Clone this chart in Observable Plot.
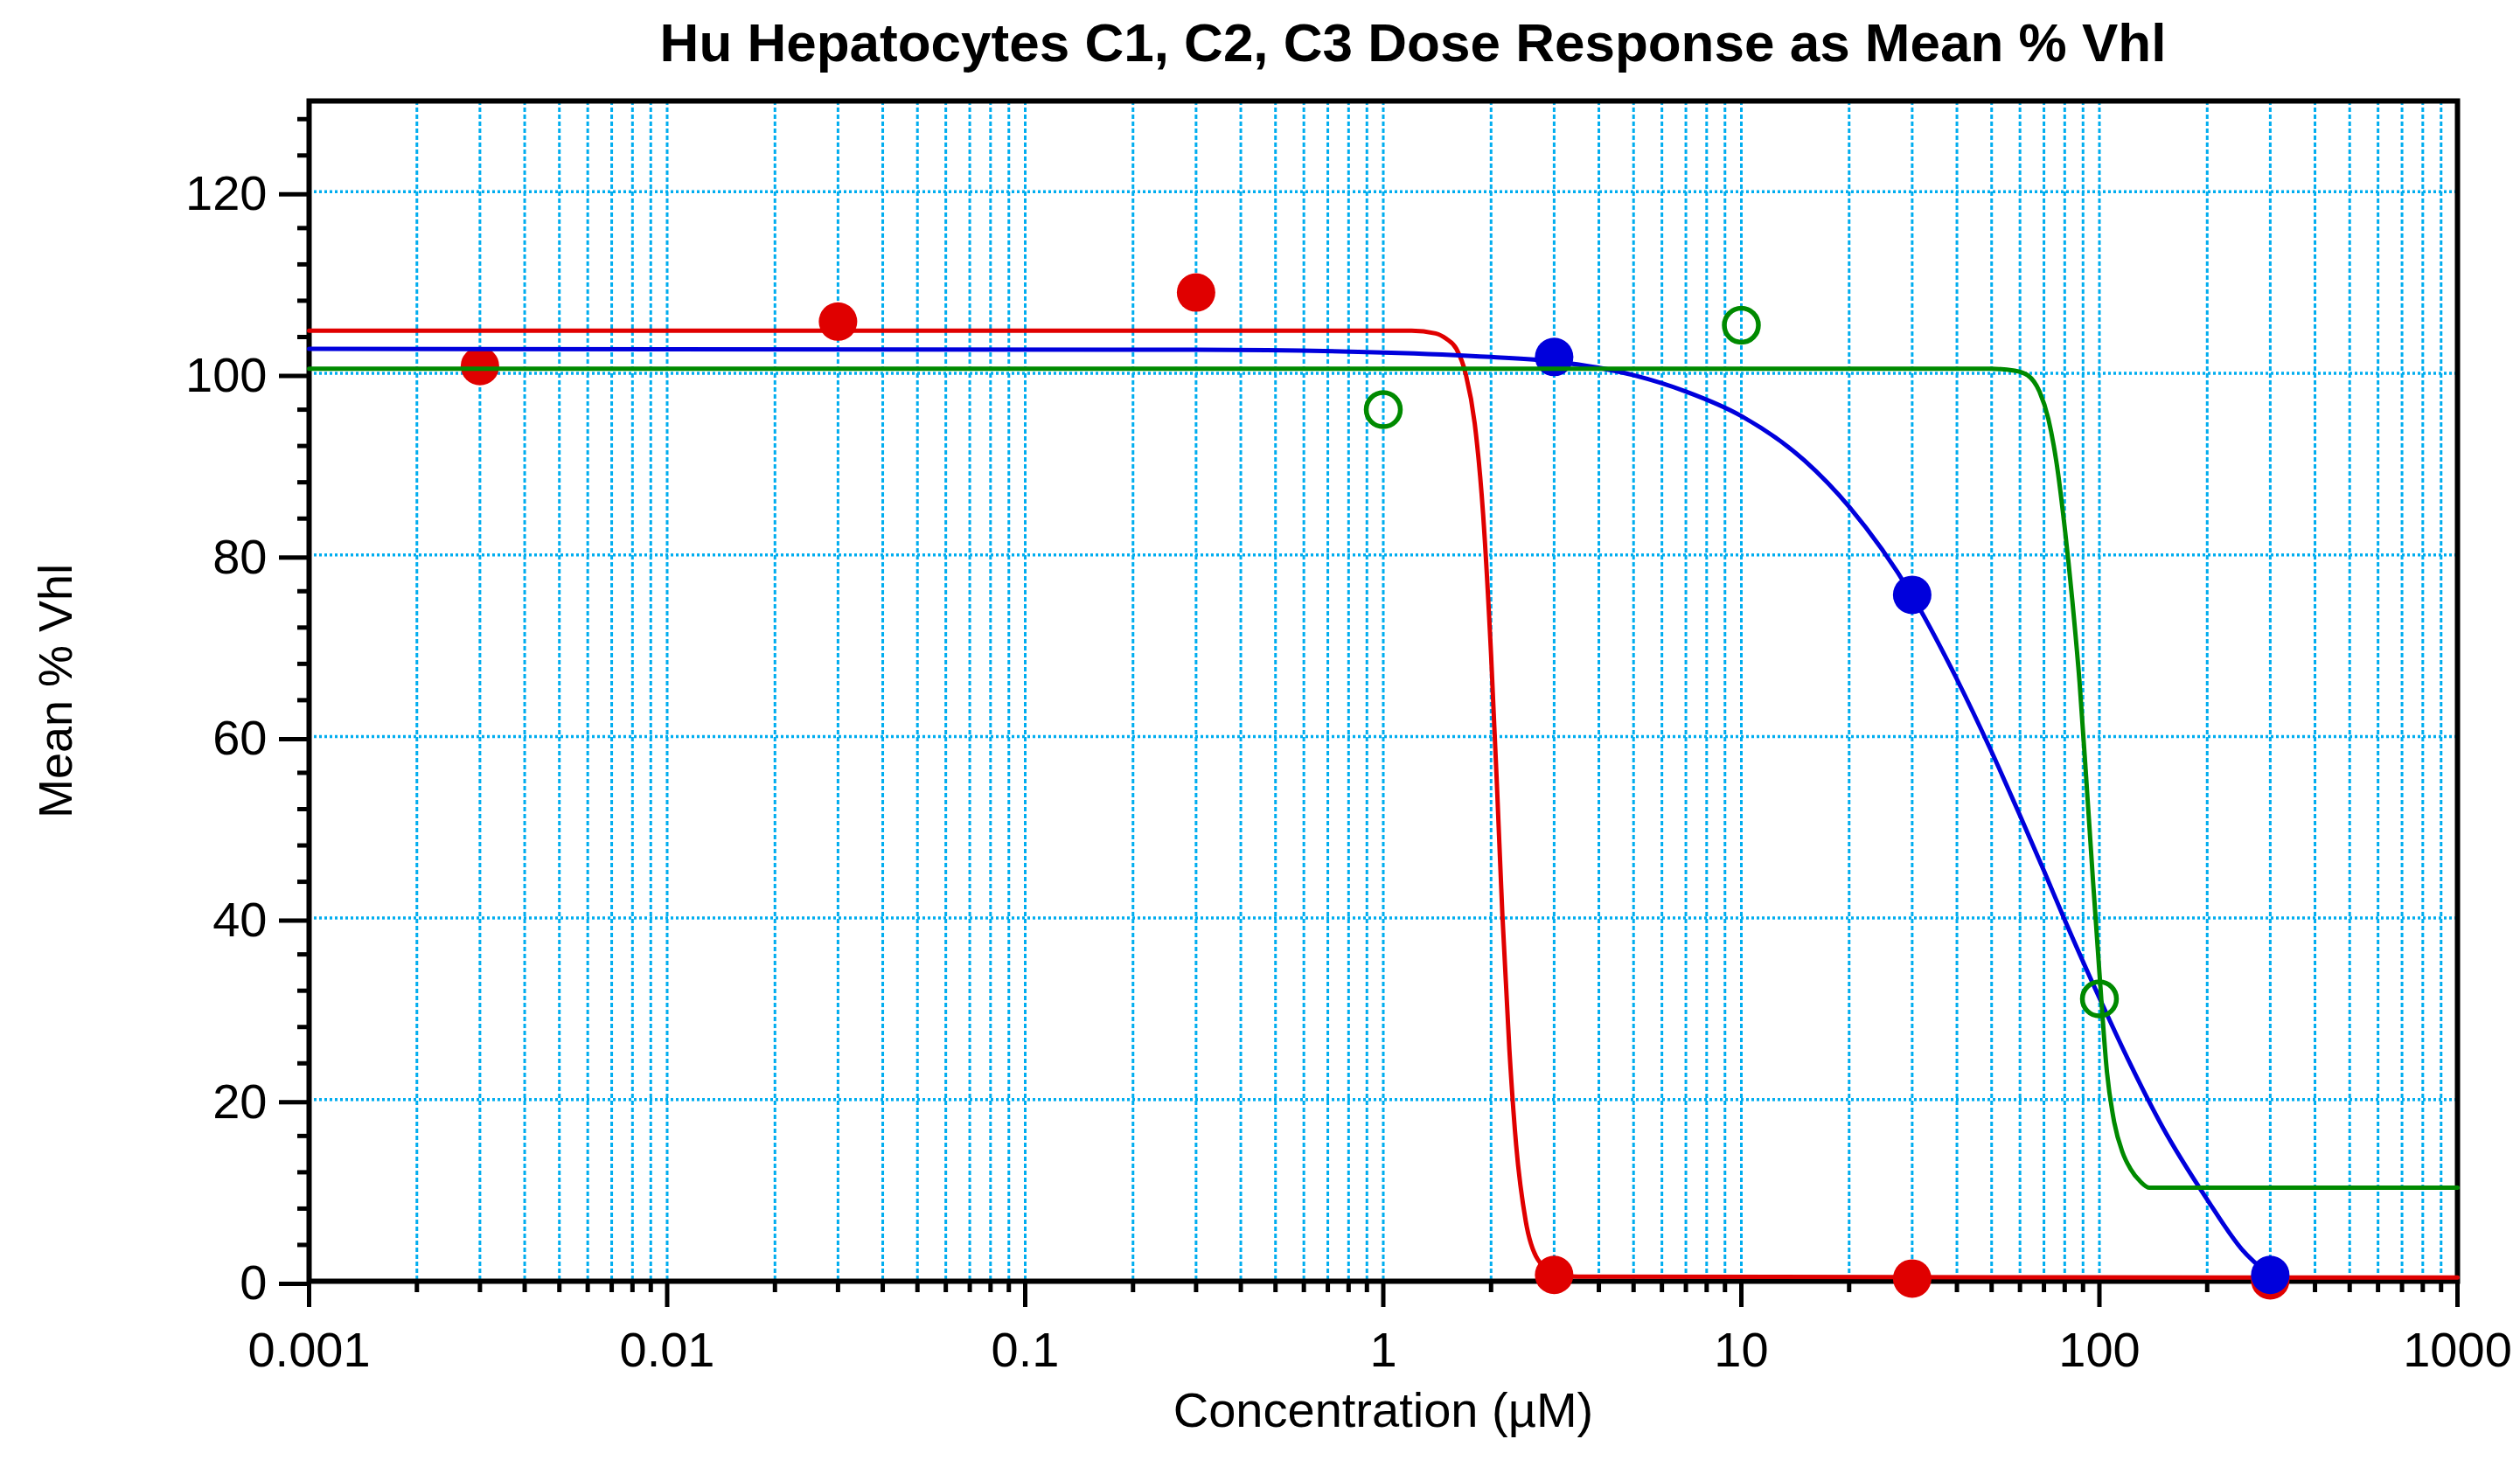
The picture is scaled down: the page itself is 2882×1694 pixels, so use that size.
<!DOCTYPE html>
<html>
<head>
<meta charset="utf-8">
<script src="https://cdn.jsdelivr.net/npm/d3@7"></script>
<script src="https://cdn.jsdelivr.net/npm/@observablehq/plot@0.6"></script>
<style>
  html, body { margin: 0; padding: 0; background: #fff; }
  svg { display: block; }
</style>
</head>
<body>
<div id="chart"></div>
<script>
// ---- Data ----
const titleText = "Hu Hepatocytes C1, C2, C3 Dose Response as Mean % Vhl";
const xLabelText = "Concentration (µM)";
const yLabelText = "Mean % Vhl";

const xTickValues = [0.001, 0.01, 0.1, 1, 10, 100, 1000];
const xTickLabels = ["0.001", "0.01", "0.1", "1", "10", "100", "1000"];
const yTickValues = [0, 20, 40, 60, 80, 100, 120];
const yTickLabels = ["0", "20", "40", "60", "80", "100", "120"];
const yGridValues = [20, 40, 60, 80, 100, 120];

// C1 (red, filled)
const c1Conc = [0.003, 0.03, 0.3, 3, 30, 300];
const c1Resp = [100.8, 105.7, 108.9, 0.7, 0.3, 0.1];
// C2 (blue, filled)
const c2Conc = [3, 30, 300];
const c2Resp = [101.8, 75.6, 0.7];
// C3 (green, open)
const c3Conc = [1, 10, 100];
const c3Resp = [96.0, 105.3, 31.1];

// Fitted curves, points
const c1CurveX = [0.001, 1.2, 1.4, 1.5, 1.6, 1.7, 1.8, 1.9, 2.0, 2.08, 2.15, 2.25, 2.35, 2.5, 2.7, 3.0, 3.5, 1000];
const c1CurveY = [104.7, 104.7, 104.4, 103.8, 102.7, 99.9, 94.5, 84.5, 69, 54, 40.5, 25.5, 15, 6.6, 2.4, 0.9, 0.5, 0.4];

const c2CurveX = [0.001, 0.3, 1, 2, 3, 5, 7, 10, 15, 20, 30, 40, 50, 60, 70, 80, 100, 120, 150, 200, 250, 300];
const c2CurveY = [102.7, 102.6, 102.3, 101.8, 101.3, 99.8, 98, 95.3, 90.4, 85.3, 75.5, 66.3, 58.3, 51.3, 45.2, 39.8, 31.2, 24.5, 17, 9, 3.5, 0.6];

const c3CurveX = [0.001, 50, 58, 63, 68, 72, 76, 80, 84, 88, 92, 96, 100, 105, 110, 116, 122, 130, 138, 1000];
const c3CurveY = [100.5, 100.5, 100.3, 99.8, 98, 95, 90, 83, 75, 66, 55, 44, 34, 23, 17.5, 14.2, 12.4, 11, 10.3, 10.3];

// ---- Styles ----
const RED = "#e00000", BLUE = "#0000dc", GREEN = "#008a00", GRID = "#00adef";
const FONT = "'Liberation Sans', Arial, Helvetica, sans-serif";

// ---- Tables ----
const toRows = (xs, ys) => xs.map((x, i) => ({x, y: ys[i]}));
const c1Pts = toRows(c1Conc, c1Resp), c2Pts = toRows(c2Conc, c2Resp), c3Pts = toRows(c3Conc, c3Resp);
const c1Line = toRows(c1CurveX, c1CurveY), c2Line = toRows(c2CurveX, c2CurveY), c3Line = toRows(c3CurveX, c3CurveY);

const xMinor = [];
for (const d of xTickValues.slice(0, -1)) for (let k = 2; k <= 9; k++) xMinor.push(+(d * k).toPrecision(6));
const xGridValues = xMinor.concat(xTickValues.slice(1, -1));
const yMinor = [];
for (let v = 4; v <= 128; v += 4) if (v % 20 !== 0) yMinor.push(v);

const W = 2882, H = 1694;
const chart = Plot.plot({
  width: W, height: H,
  marginLeft: 353, marginRight: 72, marginTop: 115, marginBottom: 229,
  style: {fontFamily: FONT, background: "#fff", color: "#000", overflow: "visible"},
  x: {type: "log", domain: [0.001, 1000], label: null},
  y: {domain: [0, 130], label: null},
  marks: [
    Plot.gridX(xGridValues, {stroke: GRID, strokeOpacity: 1, strokeWidth: 3, strokeDasharray: "5,3"}),
    Plot.gridY(yGridValues, {stroke: GRID, strokeOpacity: 1, strokeWidth: 3.5, strokeDasharray: "3,3"}),
    Plot.frame({stroke: "#000", strokeWidth: 6}),
    Plot.axisX(xTickValues, {tickSize: 30, tickPadding: 28, strokeWidth: 5, fontSize: 56, label: null,
      tickFormat: d => xTickLabels[xTickValues.indexOf(d)]}),
    Plot.axisX(xMinor, {tickSize: 13, strokeWidth: 5, tickFormat: () => "", label: null}),
    Plot.axisY(yTickValues, {tickSize: 34, tickPadding: 14, strokeWidth: 5, fontSize: 56, label: null, dy: 3,
      tickFormat: d => yTickLabels[yTickValues.indexOf(d)]}),
    Plot.axisY(yMinor, {tickSize: 13, strokeWidth: 5, tickFormat: () => "", label: null}),
    // C1
    Plot.line(c1Line, {x: "x", y: "y", stroke: RED, strokeWidth: 5, curve: "monotone-x"}),
    Plot.dot(c1Pts, {x: "x", y: "y", r: 22, fill: RED, stroke: "none"}),
    // C2
    Plot.line(c2Line, {x: "x", y: "y", stroke: BLUE, strokeWidth: 5, curve: "monotone-x"}),
    Plot.dot(c2Pts, {x: "x", y: "y", r: 22, fill: BLUE, stroke: "none"}),
    // C3
    Plot.line(c3Line, {x: "x", y: "y", stroke: GREEN, strokeWidth: 5, curve: "monotone-x"}),
    Plot.dot(c3Pts, {x: "x", y: "y", r: 19.5, fill: "none", stroke: GREEN, strokeWidth: 5.5}),
    // Texts
    Plot.text([titleText], {frameAnchor: "top", lineAnchor: "middle", dy: -65, dx: 34, fontSize: 62, fontWeight: "bold", fill: "#000"}),
    Plot.text([xLabelText], {frameAnchor: "bottom", lineAnchor: "middle", dy: 149, fontSize: 56, fill: "#000"}),
    Plot.text([yLabelText], {frameAnchor: "left", textAnchor: "middle", lineAnchor: "middle", dx: -289, rotate: -90, fontSize: 54, fill: "#000"})
  ]
});
document.getElementById("chart").appendChild(chart);
</script>
</body>
</html>
